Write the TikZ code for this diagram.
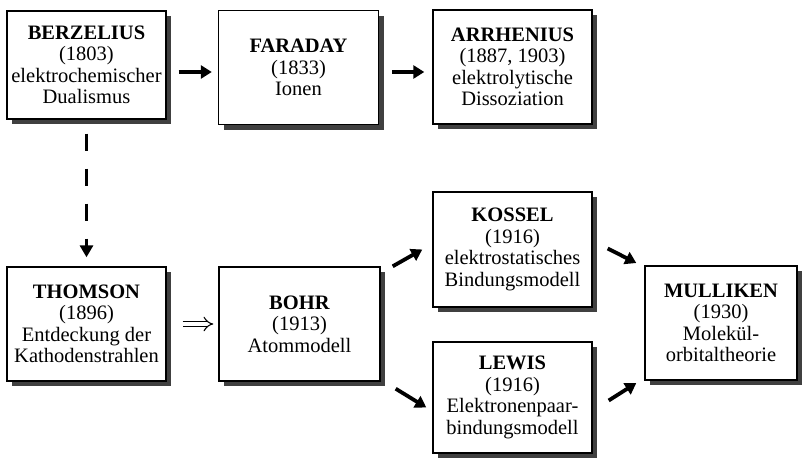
\documentclass[tikz,border=0pt]{standalone}
\usepackage{fontspec}
\setmainfont{Liberation Serif}
\usetikzlibrary{arrows.meta}
\tikzset{
  box/.style={draw=black, line width=1.4pt, fill=white, align=center, inner sep=2pt,
    font=\fontsize{20.5}{21.5}\selectfont},
  boxshadow/.style={fill=black!75, draw=none, inner sep=0pt},
  arr/.style={line width=3.8pt, -{Triangle[length=11pt,width=13pt]}},
  darr/.style={line width=3.8pt, dash pattern=on 17pt off 18pt, -{Triangle[length=12pt,width=13pt]}},
  iarr/.style={double, double distance=4pt, line width=1.1pt, -{Implies}}
}
\newcommand{\mybox}[6]{%
  \node[boxshadow, minimum width=#4pt, minimum height=#5pt] (#1s) at (#2+5,#3+5) {};
  \node[box, minimum width=#4pt, minimum height=#5pt] (#1) at (#2,#3) {#6};
}
\begin{document}
\begin{tikzpicture}[x=1pt,y=-1pt]
\useasboundingbox (0,0) rectangle (803,459);
\mybox{berz}{86.5}{65}{159}{108}{\textbf{BERZELIUS}\\(1803)\\elektrochemischer\\Dualismus}
\mybox{far}{298.5}{67.5}{160}{114}{\textbf{FARADAY}\\(1833)\\Ionen}
\mybox{arr}{512.5}{67}{159}{114}{\textbf{ARRHENIUS}\\(1887, 1903)\\elektrolytische\\Dissoziation}
\mybox{thom}{86.5}{324}{159}{114}{\textbf{THOMSON}\\(1896)\\Entdeckung der\\Kathodenstrahlen}
\mybox{bohr}{299.5}{324}{161}{114}{\textbf{BOHR}\\(1913)\\Atommodell}
\mybox{koss}{512.5}{249.5}{159}{115}{\textbf{KOSSEL}\\(1916)\\elektrostatisches\\Bindungsmodell}
\mybox{lew}{512.5}{397.5}{159}{111}{\textbf{LEWIS}\\(1916)\\Elektronenpaar-\\bindungsmodell}
\mybox{mull}{721}{323}{152}{114}{\textbf{MULLIKEN}\\(1930)\\Molekül-\\orbitaltheorie}

\draw[arr] ([shift={(12,7)}]berz.east) -- ([shift={(-6,4.5)}]far.west);
\draw[arr] ([shift={(13,4.5)}]far.east) -- ([shift={(-8,5)}]arr.west);
\draw[darr] ([yshift=-14pt]berz.south) -- ([yshift=9pt]thom.north);
\draw[iarr] ([xshift=16pt]thom.east) -- ([xshift=-5pt]bohr.west);
\draw[arr] ([shift={(12,0)}]bohr.north east) -- ([shift={(-10,0)}]koss.west);
\draw[arr] ([shift={(15,7)}]bohr.south east) -- ([shift={(-6,10)}]lew.west);
\draw[arr] ([shift={(15,-1)}]koss.east) -- ([shift={(-8,-60)}]mull.west);
\draw[arr] ([shift={(16,3)}]lew.east) -- ([shift={(-8,60)}]mull.west);
\end{tikzpicture}
\end{document}
